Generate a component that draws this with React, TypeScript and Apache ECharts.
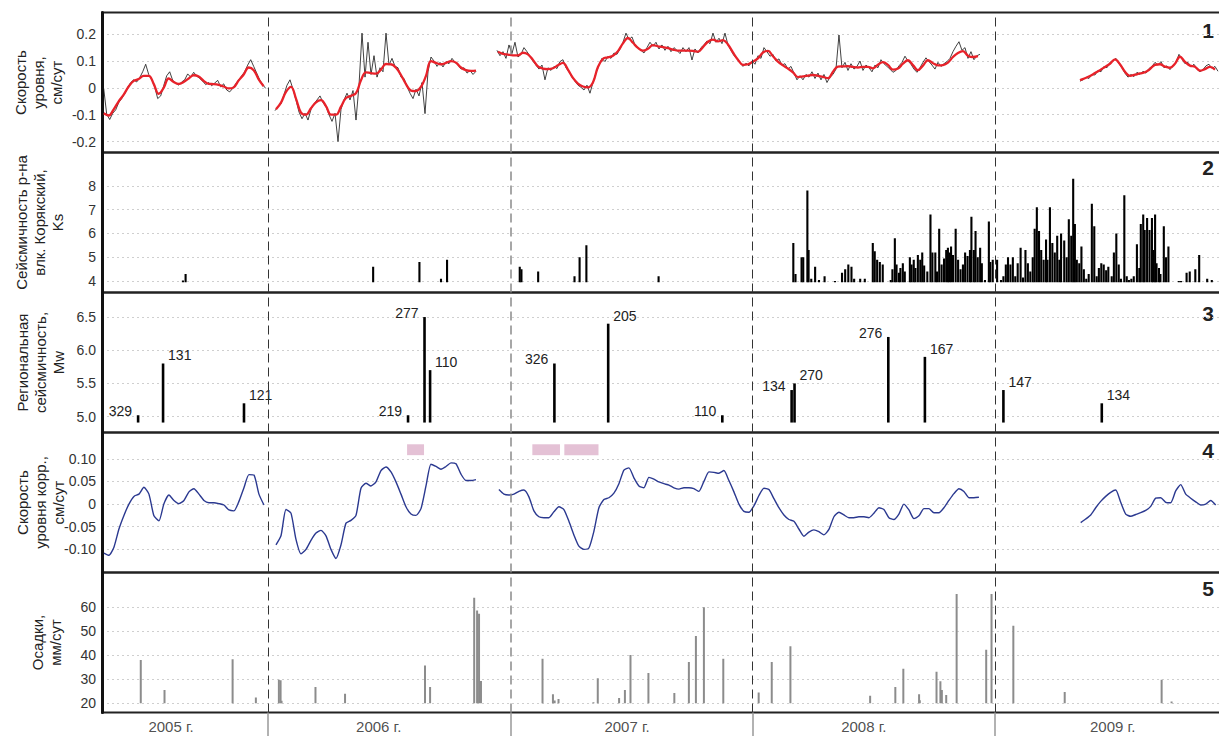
import React, { useEffect, useRef } from 'react';
import * as echarts from 'echarts';

const FONT = '"Liberation Sans", Arial, Helvetica, sans-serif';

// ---------- time axis (decimal years) ----------
const X_MIN = 2005.315;
const X_MAX = 2009.933;
const yearBoundaries = [2006, 2007, 2008, 2009];
const yearLabels = ['2005 г.', '2006 г.', '2007 г.', '2008 г.', '2009 г.'];
const yearLabelPos = [2005.6, 2006.457, 2007.482, 2008.459, 2009.486];

// ---------- panel 1: level rate (raw black, smoothed red) ----------
const STEP_SMOOTH = 0.020635;
const STEP_RAW = 0.012381;
const smoothStarts = [2005.322, 2006.033, 2006.949, 2009.351];
const rawStarts = [2005.322, 2006.029, 2006.945, 2009.351];

const red2005 = [-0.095,-0.103,-0.080,-0.050,-0.025,0.005,0.026,0.033,0.045,0.045,0.015,-0.022,0.000,0.035,0.022,0.015,0.022,0.035,0.047,0.042,0.026,0.015,0.014,0.011,0.005,-0.002,0.002,0.028,0.050,0.076,0.066,0.032,0.006];
const red2006 = [-0.080,-0.055,-0.015,0.004,-0.040,-0.092,-0.100,-0.076,-0.054,-0.046,-0.068,-0.100,-0.100,-0.070,-0.038,-0.030,-0.020,0.028,0.058,0.055,0.053,0.068,0.089,0.088,0.075,0.048,0.014,-0.010,-0.012,0.004,0.045,0.100,0.093,0.088,0.093,0.100,0.094,0.076,0.066,0.063,0.064];
const red2007 = [0.135,0.127,0.124,0.121,0.121,0.131,0.125,0.104,0.080,0.072,0.070,0.073,0.084,0.093,0.068,0.037,0.016,0.005,0.002,0.020,0.078,0.108,0.114,0.120,0.137,0.166,0.186,0.168,0.149,0.139,0.146,0.159,0.155,0.152,0.148,0.143,0.139,0.139,0.139,0.138,0.135,0.152,0.172,0.180,0.173,0.178,0.162,0.132,0.105,0.086,0.088,0.098,0.110,0.132,0.138,0.118,0.098,0.084,0.072,0.058,0.040,0.043,0.046,0.048,0.045,0.041,0.036,0.060,0.079,0.080,0.081,0.078,0.076,0.078,0.078,0.073,0.086,0.096,0.086,0.068,0.072,0.090,0.103,0.085,0.066,0.083,0.103,0.092,0.084,0.085,0.094,0.115,0.130,0.137,0.120,0.115,0.118];
const red2009 = [0.029,0.036,0.044,0.055,0.066,0.078,0.090,0.106,0.088,0.060,0.045,0.049,0.054,0.058,0.070,0.086,0.088,0.079,0.075,0.090,0.116,0.097,0.083,0.079,0.064,0.070,0.078,0.068];

const black2005 = [-0.002,-0.098,-0.118,-0.095,-0.082,-0.055,-0.040,-0.022,0.002,0.020,0.030,0.022,0.038,0.060,0.088,0.050,0.032,0.004,-0.040,-0.030,0.008,0.045,0.060,0.028,0.018,0.010,0.022,0.030,0.052,0.040,0.058,0.044,0.035,0.025,0.012,0.020,0.008,0.018,0.028,0.004,0.015,-0.008,-0.015,-0.002,0.015,0.030,0.045,0.060,0.085,0.105,0.080,0.055,0.030,0.012,-0.002];
const black2006 = [-0.085,-0.070,-0.060,-0.025,0.010,0.030,-0.005,-0.045,-0.090,-0.115,-0.095,-0.120,-0.080,-0.060,-0.045,-0.030,-0.055,-0.070,-0.100,-0.125,-0.095,-0.200,-0.080,-0.045,-0.020,-0.045,-0.010,-0.120,0.010,0.204,0.040,0.170,0.050,0.120,0.040,0.075,0.060,0.204,0.085,0.110,0.080,0.075,0.040,0.035,0.005,-0.020,-0.040,-0.005,-0.030,0.020,-0.096,0.060,0.115,0.100,0.080,0.095,0.078,0.098,0.090,0.110,0.095,0.085,0.070,0.075,0.055,0.065,0.050,0.062];
const black2007 = [0.140,0.120,0.135,0.110,0.160,0.128,0.170,0.115,0.125,0.150,0.135,0.118,0.100,0.085,0.070,0.085,0.030,0.075,0.065,0.080,0.072,0.098,0.105,0.075,0.060,0.040,0.025,0.010,0.002,-0.008,0.010,-0.020,0.020,0.055,0.085,0.110,0.098,0.118,0.110,0.130,0.125,0.145,0.170,0.204,0.180,0.190,0.160,0.150,0.140,0.130,0.150,0.170,0.155,0.170,0.145,0.160,0.140,0.155,0.135,0.150,0.140,0.128,0.150,0.135,0.150,0.104,0.145,0.130,0.150,0.160,0.175,0.165,0.204,0.170,0.185,0.165,0.204,0.160,0.140,0.120,0.112,0.095,0.080,0.092,0.082,0.100,0.088,0.120,0.110,0.150,0.135,0.118,0.125,0.100,0.108,0.085,0.090,0.070,0.080,0.055,0.030,0.045,0.030,0.050,0.040,0.060,0.035,0.055,0.030,0.050,0.020,0.040,0.050,0.070,0.197,0.075,0.095,0.065,0.090,0.070,0.080,0.100,0.065,0.085,0.075,0.060,0.085,0.075,0.105,0.090,0.080,0.070,0.058,0.065,0.082,0.095,0.118,0.100,0.088,0.070,0.058,0.075,0.095,0.112,0.098,0.085,0.070,0.095,0.080,0.090,0.098,0.110,0.135,0.155,0.172,0.140,0.150,0.110,0.135,0.105,0.120,0.125];
const black2009 = [0.025,0.030,0.040,0.035,0.050,0.048,0.065,0.060,0.080,0.075,0.095,0.100,0.110,0.090,0.075,0.055,0.040,0.050,0.042,0.058,0.050,0.062,0.055,0.072,0.080,0.095,0.085,0.098,0.075,0.082,0.068,0.085,0.095,0.125,0.108,0.090,0.095,0.078,0.088,0.070,0.060,0.068,0.082,0.088,0.072,0.080,0.062];

// ---------- panel 2: Koryaksky seismicity, Ks ----------
const KS_BASE = 3.95;
const ksEventsEarly = [[2005.649,4.02],[2005.660,4.3],[2006.434,4.6],[2006.625,4.8],[2006.714,4.1],[2006.739,4.9],[2007.039,4.6],[2007.046,4.5],[2007.115,4.4],[2007.265,4.2],[2007.286,5.0],[2007.314,5.5],[2007.612,4.2]];
const ksEvents2008 = [[2008.168,5.6],[2008.177,4.3],[2008.202,5.0],[2008.209,5.0],[2008.226,7.8],[2008.231,5.3],[2008.242,4.1],[2008.258,4.6],[2008.274,4.05],[2008.297,4.2],[2008.340,4.0],[2008.369,4.35],[2008.382,4.5],[2008.395,4.7],[2008.408,4.6],[2008.419,4.1],[2008.444,4.1],[2008.463,4.1],[2008.496,5.6],[2008.504,5.25],[2008.514,4.9],[2008.525,4.8],[2008.537,4.7],[2008.570,4.05],[2008.577,4.5],[2008.587,5.8],[2008.594,4.7],[2008.604,4.35],[2008.610,4.55],[2008.620,4.75],[2008.628,4.4],[2008.649,5.0],[2008.656,4.7],[2008.665,4.9],[2008.672,4.55],[2008.682,5.1],[2008.692,4.9],[2008.700,5.2],[2008.708,4.65],[2008.721,4.4],[2008.734,6.8],[2008.742,5.2],[2008.754,5.2],[2008.761,4.4],[2008.770,6.2],[2008.780,4.7],[2008.790,4.95],[2008.799,5.3],[2008.806,5.4],[2008.812,5.2],[2008.819,5.45],[2008.827,5.1],[2008.838,6.2],[2008.848,4.9],[2008.858,4.5],[2008.868,4.7],[2008.877,5.2],[2008.887,5.05],[2008.897,5.3],[2008.903,6.7],[2008.913,5.3],[2008.920,6.1],[2008.929,5.0],[2008.939,5.4],[2008.946,4.75],[2008.959,4.05],[2008.975,6.5],[2008.981,4.8],[2008.991,4.9]];
const ksEvents2009 = [[2009.009,4.9],[2009.025,4.05],[2009.035,4.2],[2009.045,4.7],[2009.054,5.0],[2009.064,4.7],[2009.074,5.0],[2009.084,4.2],[2009.094,4.75],[2009.106,5.4],[2009.116,4.15],[2009.126,5.3],[2009.136,4.75],[2009.146,4.4],[2009.156,5.0],[2009.164,6.2],[2009.173,7.1],[2009.182,6.1],[2009.191,5.3],[2009.201,4.9],[2009.211,5.75],[2009.217,4.9],[2009.227,7.1],[2009.237,5.6],[2009.247,5.2],[2009.257,5.9],[2009.266,4.9],[2009.273,6.0],[2009.286,5.7],[2009.296,5.0],[2009.305,6.6],[2009.315,5.9],[2009.323,8.3],[2009.330,6.4],[2009.338,4.9],[2009.348,4.75],[2009.357,5.45],[2009.367,4.5],[2009.377,4.1],[2009.387,4.3],[2009.400,7.25],[2009.410,6.3],[2009.420,4.2],[2009.429,4.55],[2009.439,4.75],[2009.449,4.7],[2009.459,4.45],[2009.468,4.6],[2009.482,4.2],[2009.491,5.2],[2009.501,6.0],[2009.511,4.7],[2009.520,4.1],[2009.534,7.6],[2009.544,4.2],[2009.553,4.05],[2009.563,4.1],[2009.573,4.2],[2009.586,5.55],[2009.596,4.55],[2009.602,6.4],[2009.612,6.8],[2009.618,6.15],[2009.628,6.65],[2009.638,6.15],[2009.648,6.65],[2009.654,5.3],[2009.661,6.8],[2009.667,4.75],[2009.677,4.55],[2009.683,4.3],[2009.697,6.3],[2009.706,5.0],[2009.716,5.45],[2009.759,4.0],[2009.768,4.0],[2009.791,4.35],[2009.804,4.4],[2009.827,4.5],[2009.843,5.1],[2009.876,4.1],[2009.895,4.05]];

// ---------- panel 3: regional seismicity, Mw ----------
const MW_BASE = 4.91;
const mwEvents = [[2005.464,5.02],[2005.567,5.8],[2005.901,5.2],[2006.578,5.02],[2006.646,6.5],[2006.669,5.7],[2007.182,5.8],[2007.404,6.4],[2007.875,5.02],[2008.161,5.4],[2008.173,5.5],[2008.560,6.2],[2008.711,5.9],[2009.035,5.4],[2009.441,5.2]];
const mwLabels = ['329','131','121','219','277','110','326','205','110','134','270','276','167','147','134'];
const mwLabelSide = ['L','R','R','L','L','R','L','R','L','L','R','L','R','R','R'];

// ---------- panel 4: corrected level rate ----------
const blueStarts = [2005.323, 2006.033, 2006.953, 2009.354];
const blue2005 = [-0.108,-0.113,-0.095,-0.055,-0.025,0.000,0.017,0.022,0.037,0.022,-0.026,-0.037,0.001,0.020,0.008,0.001,0.008,0.027,0.034,0.022,0.008,0.003,0.003,0.001,-0.002,-0.013,-0.015,0.006,0.036,0.065,0.064,0.022,-0.002];
const blue2006 = [-0.090,-0.070,-0.012,-0.020,-0.078,-0.110,-0.100,-0.080,-0.064,-0.058,-0.070,-0.100,-0.120,-0.090,-0.042,-0.036,-0.025,0.035,0.046,0.040,0.049,0.074,0.082,0.071,0.049,0.022,-0.006,-0.022,-0.025,-0.010,0.040,0.088,0.083,0.077,0.083,0.091,0.089,0.066,0.052,0.052,0.054];
const blue2007 = [0.032,0.022,0.020,0.022,0.028,0.031,0.016,-0.015,-0.028,-0.030,-0.030,-0.017,-0.006,-0.012,-0.038,-0.068,-0.093,-0.100,-0.097,-0.060,-0.008,0.010,0.014,0.024,0.045,0.075,0.080,0.058,0.040,0.036,0.059,0.055,0.049,0.045,0.042,0.036,0.033,0.036,0.036,0.034,0.028,0.050,0.071,0.070,0.068,0.074,0.052,0.027,0.000,-0.016,-0.018,-0.004,0.019,0.035,0.032,0.012,-0.008,-0.024,-0.034,-0.038,-0.055,-0.071,-0.062,-0.057,-0.061,-0.068,-0.056,-0.028,-0.018,-0.024,-0.030,-0.030,-0.028,-0.028,-0.030,-0.020,-0.008,-0.012,-0.030,-0.034,-0.022,0.000,-0.013,-0.032,-0.026,-0.010,-0.010,-0.019,-0.019,-0.008,0.008,0.023,0.034,0.028,0.014,0.014,0.015];
const blue2009 = [-0.041,-0.033,-0.024,-0.008,0.006,0.017,0.026,0.031,0.004,-0.022,-0.027,-0.023,-0.019,-0.014,-0.005,0.013,0.014,0.004,0.003,0.029,0.043,0.022,0.013,0.005,-0.002,0.000,0.008,-0.002];
// highlighted intervals [startYear, endYear]
const pinkIntervals = [[2006.574, 2006.644], [2007.091, 2007.205], [2007.223, 2007.364]];
const pinkBand = [0.108, 0.132];

// ---------- panel 5: precipitation, mm/day ----------
const RAIN_BASE = 20;
const rainEvents = [[2005.475,38],[2005.573,25.5],[2005.854,38.3],[2005.950,22.3],[2006.045,29.7],[2006.052,29.5],[2006.056,21],[2006.196,26.7],[2006.318,23.9],[2006.648,35.7],[2006.669,26.7],[2006.851,63.9],[2006.863,58.6],[2006.871,57.2],[2006.879,29.2],[2007.133,38.5],[2007.176,23.7],[2007.183,21.1],[2007.199,21.7],[2007.343,20.4],[2007.361,30.4],[2007.449,22.1],[2007.473,25.5],[2007.496,40],[2007.570,32.5],[2007.677,24.2],[2007.737,37.1],[2007.766,48],[2007.799,59.9],[2007.879,38.5],[2008.025,24.4],[2008.079,37.1],[2008.156,43.7],[2008.485,23.1],[2008.589,26.7],[2008.622,34.3],[2008.687,23.7],[2008.690,21.2],[2008.759,33.1],[2008.775,29.1],[2008.781,25.5],[2008.799,23.4],[2008.842,65.4],[2008.964,42.2],[2008.986,65.4],[2009.076,52.2],[2009.288,24.6],[2009.688,29.7],[2009.729,20.7]];

// ---------- axes ----------
const yRanges = [[-0.241, 0.281], [3.52, 9.4], [4.76, 6.87], [-0.151, 0.158], [16.1, 74.4]];
const yTicks = [[-0.2, -0.1, 0, 0.1, 0.2], [4, 5, 6, 7, 8], [5, 5.5, 6, 6.5], [-0.1, -0.05, 0, 0.05, 0.1], [20, 30, 40, 50, 60]];
const panelTitles = [
  'Скорость\nуровня,\nсм/сут',
  'Сейсмичность р-на\nвлк. Корякский,\nKs',
  'Региональная\nсейсмичность,\nMw',
  'Скорость\nуровня корр.,\nсм/сут',
  'Осадки,\nмм/сут',
];
const panelNumbers = ['1', '2', '3', '4', '5'];

// ---------- layout (pixels) ----------
const PANEL_TOPS = [12.5, 152.5, 292.5, 432.5, 572.5];
const PANEL_H = 140;
const TITLE_X = [38, 39, 40, 40, 46.5];
const NUMBER_Y = [30, 167, 313, 450, 588];

function seg(start: number, step: number, values: number[]) {
  return values.map((v, i) => [start + i * step, v]);
}

const yFormatters = [
  (v: number) => (v === 0 ? '0' : String(v)),
  (v: number) => String(v),
  (v: number) => v.toFixed(1),
  (v: number) => (v === 0 ? '0' : v.toFixed(2)),
  (v: number) => String(v),
];

function yearMarkLine() {
  return {
    silent: true,
    symbol: ['none', 'none'],
    label: { show: false },
    animation: false,
    data: yearBoundaries.map((y) => ({
      xAxis: y,
      lineStyle: { type: [9, 5], color: y === 2007 ? '#8a8a8a' : '#333', width: y === 2007 ? 1.5 : 1 },
    })),
  };
}

function spikeRenderer(base: number, color: string, width: number) {
  return (params: any, api: any) => {
    const x = api.value(0);
    const v = api.value(1);
    const a = api.coord([x, base]);
    const b = api.coord([x, v]);
    return {
      type: 'line',
      shape: { x1: a[0], y1: a[1], x2: b[0], y2: b[1] },
      style: { stroke: color, lineWidth: width },
    };
  };
}

function buildOption(): any {
  const grids: any[] = PANEL_TOPS.map((top) => ({
    left: 102, right: -2, top, height: PANEL_H, show: true,
    borderColor: '#222', borderWidth: 2, containLabel: false, outerBoundsMode: 'none',
  }));
  grids.push({ left: 102, right: -2, top: 712.5, height: 23.5, show: false, containLabel: false, outerBoundsMode: 'none' });

  const xAxes = grids.map((_, i) => ({ type: 'value', gridIndex: i, min: X_MIN, max: X_MAX, show: false }));
  const yAxes: any[] = PANEL_TOPS.map((_, i) => ({
    type: 'value', gridIndex: i, min: yRanges[i][0], max: yRanges[i][1],
    axisLine: { show: true, onZero: false, lineStyle: { color: '#111', width: 3 } },
    axisTick: { show: false, customValues: yTicks[i] },
    axisLabel: {
      show: true, customValues: yTicks[i], formatter: yFormatters[i],
      color: '#333', fontSize: 14, fontFamily: FONT, margin: 6,
    },
    splitLine: { show: true, lineStyle: { color: '#cfcfcf', type: [2, 3], width: 1 } },
  }));
  yAxes.push({ type: 'value', gridIndex: 5, min: 0, max: 1, show: false });

  const series: any[] = [];
  const blackSets = [black2005, black2006, black2007, black2009];
  const redSets = [red2005, red2006, red2007, red2009];
  const blueSets = [blue2005, blue2006, blue2007, blue2009];

  blackSets.forEach((vals, i) => {
    series.push({
      type: 'line', xAxisIndex: 0, yAxisIndex: 0, data: seg(rawStarts[i], STEP_RAW, vals),
      showSymbol: false, symbol: 'none', silent: true, z: 2,
      lineStyle: { color: '#111', width: 0.8 },
      markLine: i === 0 ? yearMarkLine() : undefined,
    });
  });
  redSets.forEach((vals, i) => {
    series.push({
      type: 'line', xAxisIndex: 0, yAxisIndex: 0, data: seg(smoothStarts[i], STEP_SMOOTH, vals),
      showSymbol: false, symbol: 'none', silent: true, smooth: 0.4, z: 3,
      lineStyle: { color: '#e8222a', width: 2.3 },
    });
  });

  series.push({
    type: 'custom', xAxisIndex: 1, yAxisIndex: 1, silent: true, clip: true,
    data: [...ksEventsEarly, ...ksEvents2008, ...ksEvents2009],
    encode: { x: 0, y: 1 },
    renderItem: spikeRenderer(KS_BASE, '#000', 2.1),
    markLine: yearMarkLine(),
  });

  series.push({
    type: 'custom', xAxisIndex: 2, yAxisIndex: 2, silent: true, clip: false,
    data: mwEvents, encode: { x: 0, y: 1 },
    renderItem: (params: any, api: any) => {
      const i = params.dataIndex;
      const x = api.value(0);
      const v = api.value(1);
      const a = api.coord([x, MW_BASE]);
      const b = api.coord([x, v]);
      const left = mwLabelSide[i] === 'L';
      return {
        type: 'group',
        children: [
          { type: 'line', shape: { x1: a[0], y1: a[1], x2: b[0], y2: b[1] }, style: { stroke: '#000', lineWidth: 2.6 } },
          {
            type: 'text',
            x: b[0] + (left ? -6 : 5),
            y: b[1] + (left ? -4 : -8),
            style: {
              text: mwLabels[i], fill: '#222', fontSize: 14, fontFamily: FONT,
              textAlign: left ? 'right' : 'left', align: left ? 'right' : 'left',
              textVerticalAlign: 'middle', verticalAlign: 'middle',
            },
          },
        ],
      };
    },
    markLine: yearMarkLine(),
  });

  blueSets.forEach((vals, i) => {
    series.push({
      type: 'line', xAxisIndex: 3, yAxisIndex: 3, data: seg(blueStarts[i], STEP_SMOOTH, vals),
      showSymbol: false, symbol: 'none', silent: true, smooth: 0.2,
      lineStyle: { color: '#2b3990', width: 1.4 },
      markLine: i === 0 ? yearMarkLine() : undefined,
      markArea: i === 0 ? {
        silent: true,
        itemStyle: { color: '#e4c1d5' },
        data: pinkIntervals.map(([s, e]) => [{ xAxis: s, yAxis: pinkBand[1] }, { xAxis: e, yAxis: pinkBand[0] }]),
      } : undefined,
    });
  });

  series.push({
    type: 'custom', xAxisIndex: 4, yAxisIndex: 4, silent: true, clip: true,
    data: rainEvents, encode: { x: 0, y: 1 },
    renderItem: spikeRenderer(RAIN_BASE, '#8c8c8c', 2),
    markLine: yearMarkLine(),
  });

  series.push({
    type: 'scatter', xAxisIndex: 5, yAxisIndex: 5, silent: true,
    symbolSize: 1, itemStyle: { color: 'rgba(0,0,0,0)' },
    data: yearLabelPos.map((x, i) => ({ value: [x, 0.42], name: yearLabels[i] })),
    label: { show: true, position: 'inside', formatter: '{b}', color: '#222', fontSize: 15, fontFamily: FONT },
    markLine: {
      silent: true, symbol: ['none', 'none'], label: { show: false }, animation: false,
      data: yearBoundaries.map((y) => ({ xAxis: y, lineStyle: { type: 'solid', color: '#999', width: 1.5 } })),
    },
  });

  const graphic: any[] = [];
  PANEL_TOPS.forEach((top, i) => {
    graphic.push({
      type: 'text', x: TITLE_X[i], y: top + PANEL_H / 2, rotation: Math.PI / 2, silent: true,
      style: {
        text: panelTitles[i], fill: '#222', fontSize: 15, lineHeight: 18, fontFamily: FONT,
        textAlign: 'center', align: 'center', textVerticalAlign: 'middle', verticalAlign: 'middle',
      },
    });
    graphic.push({
      type: 'text', x: 1214, y: NUMBER_Y[i], silent: true,
      style: {
        text: panelNumbers[i], fill: '#222', fontSize: 21, fontWeight: 'bold', fontFamily: FONT,
        textAlign: 'right', align: 'right', textVerticalAlign: 'middle', verticalAlign: 'middle',
      },
    });
  });

  return {
    animation: false,
    backgroundColor: '#fff',
    textStyle: { fontFamily: FONT },
    grid: grids,
    xAxis: xAxes,
    yAxis: yAxes,
    series,
    graphic,
  };
}

export default function App() {
  const ref = useRef<HTMLDivElement>(null);
  useEffect(() => {
    if (!ref.current) return;
    const chart = echarts.init(ref.current, null, { renderer: 'svg' });
    chart.setOption(buildOption());
    return () => chart.dispose();
  }, []);
  return (
    <div
      ref={ref}
      style={{ position: 'absolute', left: 0, top: 0, width: 1219, height: 736, background: '#fff' }}
    />
  );
}
